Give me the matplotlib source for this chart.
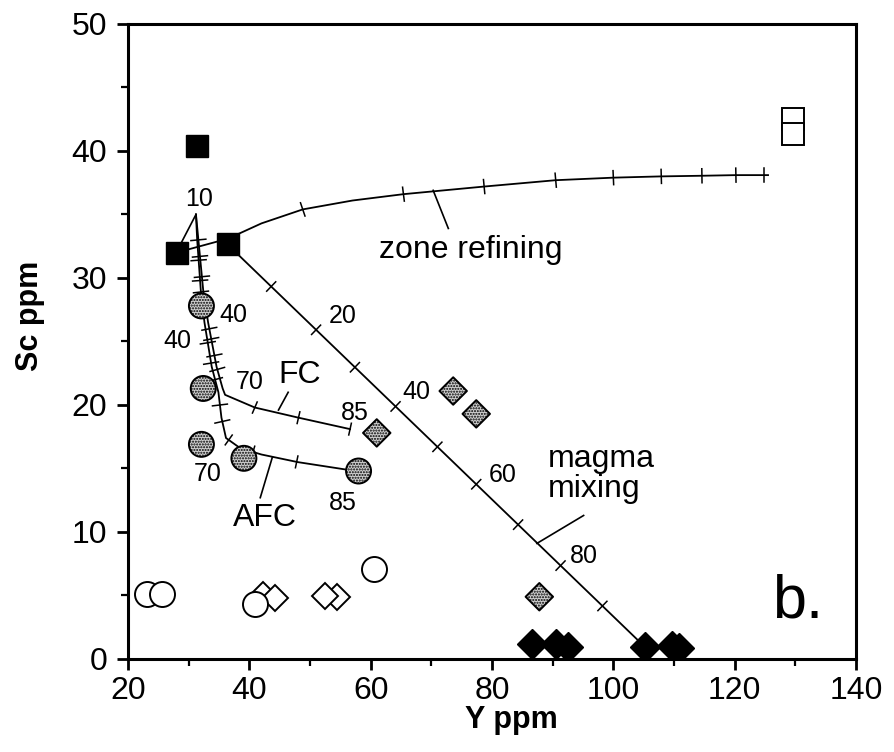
import numpy as np
import matplotlib
matplotlib.use("Agg")
import matplotlib.pyplot as plt

plt.rcParams['font.family'] = ['Liberation Sans', 'DejaVu Sans']
plt.rcParams['hatch.linewidth'] = 1.0

# ---- sample data (Y ppm, Sc ppm) ----
black_sq_x = [31.3, 28.0, 36.5]
black_sq_y = [40.4, 32.0, 32.7]

open_sq_x = [129.6, 129.6]
open_sq_y = [42.5, 41.3]

stip_circ_x = [32.1, 32.4, 32.1, 39.1, 58.0]
stip_circ_y = [27.8, 21.3, 16.9, 15.8, 14.8]

stip_dia_x = [61.0, 73.6, 77.4, 87.8]
stip_dia_y = [17.8, 21.1, 19.3, 4.9]

black_dia_x = [86.6, 90.6, 92.6, 105.2, 109.6, 110.8]
black_dia_y = [1.2, 1.15, 0.95, 0.95, 1.0, 0.85]

open_circ_x = [23.1, 25.6, 60.6]
open_circ_y = [5.15, 5.15, 7.1]
open_circ2_x = [40.9]
open_circ2_y = [4.3]

open_dia_x = [42.3, 44.2, 54.4, 52.5]
open_dia_y = [5.0, 4.8, 4.9, 4.95]

# ---- model curves ----
zone_x = [28.0, 36.5, 42.0, 48.8, 57.0, 65.4, 78.7, 90.5, 100.0, 107.9, 114.6, 120.2, 125.5]
zone_y = [32.0, 33.1, 34.3, 35.4, 36.1, 36.6, 37.2, 37.7, 37.9, 38.0, 38.05, 38.1, 38.1]
zone_tick_x = [48.8, 65.4, 78.7, 90.5, 100.0, 107.9, 114.6, 120.2, 124.9]

mix_x = [36.5, 105.2]
mix_y = [32.6, 0.95]
mix_tick_x = [43.6, 51.0, 57.4, 64.1, 71.0, 77.4, 84.3, 91.3, 98.2]

fc_x = [31.2, 31.6, 32.4, 33.2, 34.6, 35.6, 36.0, 40.9, 48.1, 56.6]
fc_y = [35.0, 33.0, 29.0, 26.5, 23.0, 21.3, 20.8, 19.8, 19.0, 18.1]
fc_tick_y = [33.0, 31.7, 30.1, 26.0, 25.2, 23.9, 22.8]
fc_tick_x = [40.9, 48.1, 56.6]

afc_x = [31.2, 31.4, 32.0, 32.6, 33.8, 34.9, 35.4, 36.15, 38.5, 42.0, 48.0, 57.5]
afc_y = [35.0, 33.0, 29.0, 26.5, 23.0, 21.0, 19.0, 17.4, 16.6, 16.1, 15.5, 14.8]
afc_tick_y = [31.4, 29.8, 28.9, 24.9, 23.3, 22.0, 20.0, 18.7]
afc_tick_x = [36.6, 40.6, 47.8]

# ---- figure ----
fig = plt.figure(figsize=(8.94, 7.52), dpi=100)
ax = fig.add_axes([0.1432, 0.1237, 0.8143, 0.8444])
ax.set_xlim(20, 140)
ax.set_ylim(0, 50)

lw_curve = 1.3
ax.plot(zone_x, zone_y, color='black', lw=lw_curve, zorder=2)
ax.plot(mix_x, mix_y, color='black', lw=lw_curve, zorder=2)
ax.plot(fc_x, fc_y, color='black', lw=lw_curve, zorder=2)
ax.plot(afc_x, afc_y, color='black', lw=lw_curve, zorder=2)

fig.canvas.draw()
to_disp = ax.transData.transform
to_data = ax.transData.inverted().transform


def curve_ticks(cx, cy, px, py, length=13):
    """Short ticks across a polyline at points (px, py), perpendicular in screen space."""
    pts = to_disp(np.column_stack([cx, cy]))
    for x, y in zip(px, py):
        p = to_disp([[x, y]])[0]
        best, d = None, np.inf
        for a, b in zip(pts[:-1], pts[1:]):
            ab = b - a
            t = np.clip(np.dot(p - a, ab) / np.dot(ab, ab), 0, 1)
            q = a + t * ab
            dist = np.linalg.norm(p - q)
            if dist < d:
                d, best = dist, (q, ab / np.linalg.norm(ab))
        q, u = best
        n = np.array([-u[1], u[0]])
        seg = to_data(np.array([q - n * length / 2, q + n * length / 2]))
        ax.plot(seg[:, 0], seg[:, 1], color='black', lw=1.1, zorder=2)


curve_ticks(zone_x, zone_y, zone_tick_x, np.interp(zone_tick_x, zone_x, zone_y), 14)
curve_ticks(mix_x, mix_y, mix_tick_x, np.interp(mix_tick_x, mix_x, mix_y), 13)
curve_ticks(fc_x, fc_y, np.interp(fc_tick_y, fc_y[::-1][3:], fc_x[::-1][3:]), fc_tick_y, 15)
curve_ticks(fc_x, fc_y, fc_tick_x, np.interp(fc_tick_x, fc_x[6:], fc_y[6:]), 12)
curve_ticks(afc_x, afc_y, np.interp(afc_tick_y, afc_y[::-1][4:], afc_x[::-1][4:]), afc_tick_y, 15)
curve_ticks(afc_x, afc_y, afc_tick_x, np.interp(afc_tick_x, afc_x[7:], afc_y[7:]), 12)

# leader lines for the curve labels
leaders = [
    ([31.2, 28.7], [35.0, 32.7]),
    ([70.3, 72.8], [36.9, 33.9]),
    ([46.4, 44.8], [21.0, 19.6]),
    ([43.8, 41.8], [15.9, 12.7]),
    ([87.4, 95.1], [9.1, 11.3]),
]
for lx, ly in leaders:
    ax.plot(lx, ly, color='black', lw=1.2, zorder=2)

# ---- symbols ----
ax.plot(open_circ_x, open_circ_y, 'o', ms=18, mfc='white', mec='black', mew=1.4, zorder=3)
ax.plot(open_dia_x, open_dia_y, 'D', ms=13.5, mfc='white', mec='black', mew=1.4, zorder=3)
ax.plot(open_circ2_x, open_circ2_y, 'o', ms=18, mfc='white', mec='black', mew=1.4, zorder=4)
ax.plot(open_sq_x, open_sq_y, 's', ms=15.5, mfc='white', mec='black', mew=1.4, zorder=3)
ax.plot(black_sq_x, black_sq_y, 's', ms=16, mfc='black', mec='black', zorder=4)
ax.plot(black_dia_x, black_dia_y, 'D', ms=15, mfc='black', mec='black', zorder=4)
ax.scatter(stip_circ_x, stip_circ_y, s=18**2, facecolor='#cfcfcf', edgecolor='black',
           linewidths=1.4, hatch='......', zorder=5)
ax.scatter(stip_dia_x, stip_dia_y, s=14**2, marker='D', facecolor='#cfcfcf', edgecolor='black',
           linewidths=1.4, hatch='......', zorder=5)

# ---- labels ----
num_fs = 18
num_labels = [
    ("10", 31.7, 36.2), ("40", 37.3, 27.1), ("40", 28.2, 25.0),
    ("70", 40.0, 21.8), ("70", 33.2, 14.6), ("85", 57.4, 19.4),
    ("85", 55.4, 12.3), ("20", 55.4, 27.0), ("40", 67.6, 21.05),
    ("60", 81.8, 14.5), ("80", 95.2, 8.1),
]
for s, x, y in num_labels:
    ax.text(x, y, s, fontsize=num_fs, ha='center', va='center', zorder=6)

ax.text(76.5, 32.2, "zone refining", fontsize=23, ha='center', va='center')
ax.text(89.2, 14.6, "magma\nmixing", fontsize=23, ha='left', va='center', linespacing=1.0)
ax.text(48.3, 22.4, "FC", fontsize=23, ha='center', va='center')
ax.text(42.6, 11.1, "AFC", fontsize=23, ha='center', va='center')
ax.text(130.3, 3.3, "b.", fontsize=44, ha='center', va='baseline')

# ---- axes styling ----
for sp in ax.spines.values():
    sp.set_linewidth(2.2)
ax.set_xticks([20, 40, 60, 80, 100, 120, 140])
ax.set_yticks([0, 10, 20, 30, 40, 50])
ax.set_xticks(np.arange(30, 140, 20), minor=True)
ax.set_yticks(np.arange(5, 50, 10), minor=True)
ax.tick_params(which='major', direction='out', length=8, width=2, labelsize=23)
ax.tick_params(axis='y', which='major', pad=7)
ax.tick_params(axis='x', which='major', pad=4)
ax.tick_params(which='minor', direction='out', length=5, width=1.6)
ax.set_xlabel("Y ppm", fontsize=22, fontweight='bold')
ax.set_ylabel("Sc ppm", fontsize=22, fontweight='bold')
ax.xaxis.set_label_coords(0.526, -0.072)
ax.yaxis.set_label_coords(-0.114, 0.54)

fig.savefig("out.png", dpi=100)
